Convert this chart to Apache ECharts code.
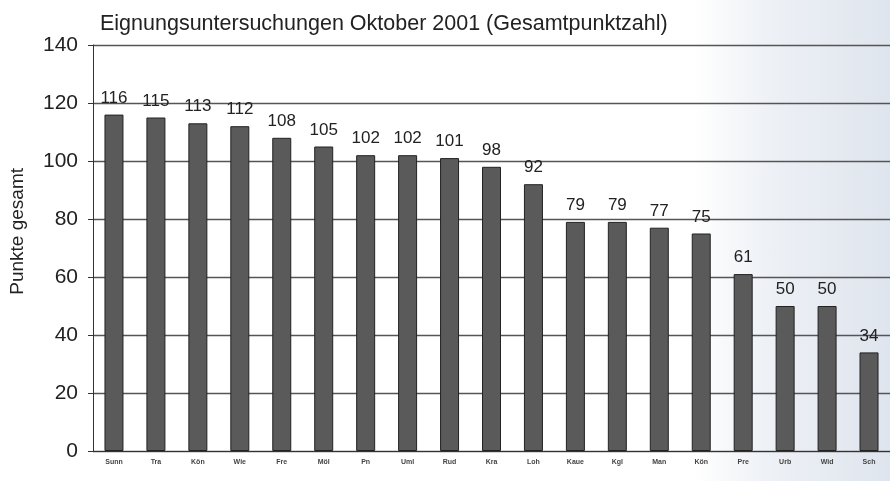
<!DOCTYPE html>
<html>
<head>
<meta charset="utf-8">
<script src="https://cdn.jsdelivr.net/npm/echarts@6/dist/echarts.min.js"></script>
<style>
  html, body { margin: 0; padding: 0; }
  body {
    width: 890px; height: 481px;
    background: linear-gradient(90deg, #ffffff 0%, #ffffff 78%, #eef1f6 86%, #dfe5ee 100%);
  }
  #chart { width: 890px; height: 481px; }
</style>
</head>
<body>
<div id="chart"></div>
<script>
// Teilnehmer (Kürzel) und erreichte Gesamtpunktzahl
const categories = ['Sunn', 'Tra', 'Kön', 'Wie', 'Fre', 'Möl', 'Pn', 'Uml', 'Rud', 'Kra',
                    'Loh', 'Kaue', 'Kgl', 'Man', 'Kön', 'Pre', 'Urb', 'Wid', 'Sch'];
const points = [116, 115, 113, 112, 108, 105, 102, 102, 101, 98,
                92, 79, 79, 77, 75, 61, 50, 50, 34];
const yTicks = [0, 20, 40, 60, 80, 100, 120, 140];

const FONT = 'Liberation Sans, Arial, sans-serif';
const chart = echarts.init(document.getElementById('chart'), null, { renderer: 'canvas' });

chart.setOption({
  animation: false,
  backgroundColor: 'transparent',
  title: {
    text: 'Eignungsuntersuchungen Oktober 2001 (Gesamtpunktzahl)',
    left: 95,
    top: 8,
    textStyle: { fontFamily: FONT, fontSize: 21.5, fontWeight: 'normal', color: '#222' }
  },
  graphic: [{
    type: 'text',
    left: 8,
    top: 168,
    rotation: Math.PI / 2,
    style: {
      text: 'Punkte gesamt',
      font: '19px ' + FONT,
      fill: '#222'
    }
  }],
  grid: { left: 93, right: 0, top: 45, bottom: 30 },
  xAxis: {
    type: 'category',
    data: categories,
    axisLine: { lineStyle: { color: '#333', width: 1 } },
    axisTick: { show: false },
    axisLabel: {
      fontFamily: FONT,
      fontSize: 7,
      fontWeight: 'bold',
      color: '#444',
      margin: 8,
      interval: 0
    }
  },
  yAxis: {
    type: 'value',
    min: yTicks[0],
    max: yTicks[yTicks.length - 1],
    interval: 20,
    axisLine: { show: true, lineStyle: { color: '#333', width: 1 } },
    axisTick: { show: true, length: 5, lineStyle: { color: '#333' } },
    axisLabel: {
      fontFamily: FONT,
      fontSize: 21,
      color: '#222',
      margin: 15
    },
    splitLine: { show: true, lineStyle: { color: '#555', width: 1.3 } }
  },
  series: [{
    type: 'bar',
    data: points,
    barWidth: 19,
    itemStyle: { color: '#5a5a5a', borderColor: '#222', borderWidth: 1 },
    label: {
      show: true,
      position: 'top',
      distance: 8,
      fontFamily: FONT,
      fontSize: 17,
      color: '#222'
    }
  }]
});
</script>
</body>
</html>
